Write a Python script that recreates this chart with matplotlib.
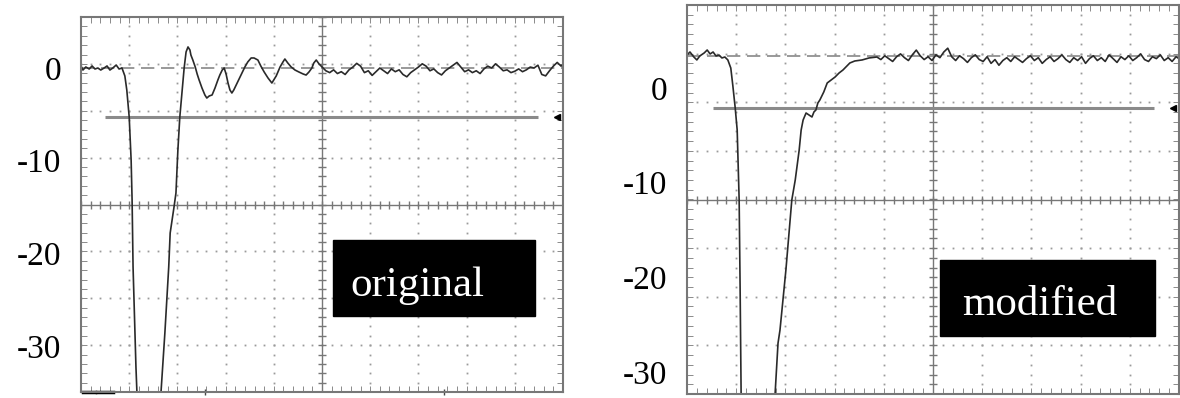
import matplotlib
matplotlib.use("Agg")
import matplotlib.pyplot as plt
from matplotlib.patches import Rectangle
import numpy as np

plt.rcParams['font.family'] = ['Liberation Serif', 'DejaVu Serif']

# labels on the level axis (same on both screens)
y_ticks = [0, -10, -20, -30]
y_labels = ['0', '-10', '-20', '-30']

# original: time (10 per division), level
orig_trace = [
    (0.0, 0.22), (0.4, -0.22), (1.0, 0.11), (1.7, -0.11), (2.3, 0.22), (2.9, -0.11),
    (3.5, 0.0), (4.1, -0.22), (4.8, 0.0), (5.4, 0.22), (6.0, -0.22), (6.6, 0.0),
    (7.3, 0.32), (7.9, -0.11), (8.5, 0.0), (9.1, -0.86), (9.5, -2.37), (10.0, -5.29),
    (10.4, -9.92), (10.6, -14.24), (10.8, -21.47), (11.4, -32.25), (11.6, -34.95),
    (12.2, -37.97), (14.3, -39.05), (16.0, -37.97), (16.6, -34.95), (17.4, -28.59),
    (18.2, -21.47), (18.5, -17.80), (19.3, -14.99), (19.7, -13.48), (20.1, -8.85),
    (20.5, -5.29), (21.0, -2.37), (21.4, 0.0), (21.8, 1.73), (22.2, 2.27), (22.6, 1.94),
    (22.8, 1.40), (23.2, 0.86), (23.7, 0.11), (24.1, -0.65), (24.5, -1.29), (25.1, -2.16),
    (25.7, -2.91), (26.1, -3.24), (26.6, -3.02), (27.2, -2.91), (27.8, -2.16), (28.4, -1.29),
    (28.8, -0.76), (29.3, -0.22), (29.7, 0.0), (30.1, -0.65), (30.5, -1.62), (30.9, -2.37),
    (31.3, -2.70), (31.7, -2.37), (32.4, -1.62), (33.0, -0.97), (33.6, -0.32), (34.0, 0.11),
    (34.6, 0.65), (35.3, 1.08), (35.9, 1.08), (36.7, 0.86), (37.3, 0.22), (38.0, -0.43),
    (38.8, -1.08), (39.6, -1.62), (40.5, -0.86), (41.3, 0.11), (41.9, 0.65), (42.3, 0.97),
    (42.9, 0.54), (43.6, 0.11), (44.4, -0.22), (45.2, -0.43), (46.1, -0.65), (46.7, -0.76),
    (47.3, -0.43), (47.9, 0.0), (48.3, 0.54), (48.8, 0.86), (49.4, 0.43), (50.0, 0.11),
    (50.8, -0.3), (51.6, -0.5), (52.4, -0.2), (53.2, -0.6), (54.0, -0.4), (54.8, -0.7),
    (55.6, -0.2), (56.4, 0.1), (57.2, 0.5), (58.0, 0.2), (58.8, -0.5), (59.6, -0.3),
    (60.4, -0.8), (61.2, -0.4), (62.0, 0.0), (62.8, -0.3), (63.6, -0.6), (64.4, -0.1),
    (65.2, -0.4), (66.0, -0.2), (66.8, -0.7), (67.6, -0.95), (68.4, -0.5), (69.2, -0.2),
    (70.0, 0.1), (70.8, 0.45), (71.6, 0.2), (72.4, -0.3), (73.2, -0.1), (74.0, -0.5),
    (74.8, -0.75), (75.6, -0.3), (76.4, 0.0), (77.2, 0.3), (78.0, 0.6), (78.8, 0.1),
    (79.6, -0.4), (80.4, -0.2), (81.2, -0.5), (82.0, -0.3), (82.8, -0.6), (83.6, -0.1),
    (84.4, 0.2), (85.2, 0.0), (86.0, 0.45), (86.8, 0.1), (87.6, -0.3), (88.4, -0.2),
    (89.2, -0.5), (90.0, -0.35), (90.8, -0.1), (91.6, -0.4), (92.4, -0.2), (93.2, 0.1),
    (94.0, 0.0), (94.8, 0.3), (95.6, -0.7), (96.4, -0.85), (97.2, -0.3), (98.0, 0.2),
    (98.8, 0.6), (99.6, 0.2), (100.0, 0.4),
]

# modified
mod_trace = [
    (0.0, 3.48), (0.6, 3.80), (1.4, 3.27), (2.0, 2.96), (2.6, 3.38), (3.5, 3.70),
    (4.1, 4.01), (4.7, 3.59), (5.3, 3.80), (5.9, 3.38), (6.5, 3.48), (7.1, 3.17),
    (7.7, 3.27), (8.3, 2.96), (8.9, 2.11), (9.3, 0.32), (9.8, -2.11), (10.2, -4.44),
    (10.6, -11.83), (10.8, -21.33), (11.0, -32.31), (11.4, -36.1), (14.8, -37.2),
    (17.5, -36.1), (17.9, -32.31), (18.3, -28.72), (18.5, -26.93), (18.9, -25.55),
    (20.1, -19.22), (21.3, -11.83), (22.0, -9.71), (22.8, -6.55), (23.2, -4.44),
    (23.6, -3.38), (24.2, -2.64), (24.8, -2.85), (25.4, -3.06), (25.8, -2.53),
    (26.2, -2.32), (26.6, -1.58), (27.0, -1.27), (27.8, -0.42), (28.5, 0.53),
    (29.3, 0.84), (30.1, 1.16), (30.9, 1.58), (31.7, 1.90), (32.5, 2.32), (33.1, 2.64),
    (34.1, 2.85), (35.6, 2.96), (37.0, 3.17), (38.6, 3.27),
    (39.4, 3.0), (40.2, 3.4), (41.0, 3.1), (41.8, 2.8), (42.6, 3.3), (43.4, 3.6),
    (44.2, 3.2), (45.0, 2.9), (45.8, 3.5), (46.6, 4.0), (47.4, 3.4), (48.2, 3.0),
    (49.0, 3.3), (49.8, 2.9), (50.6, 3.5), (51.4, 3.2), (52.2, 3.8), (53.0, 4.2),
    (53.8, 3.3), (54.6, 2.9), (55.4, 3.4), (56.2, 3.1), (57.0, 2.7), (57.8, 3.2),
    (58.6, 3.5), (59.4, 3.0), (60.2, 2.8), (61.0, 3.3), (61.8, 2.6), (62.6, 3.0),
    (63.4, 2.4), (64.2, 2.9), (65.0, 3.2), (65.8, 2.8), (66.6, 3.3), (67.4, 3.0),
    (68.2, 2.7), (69.0, 3.1), (69.8, 3.4), (70.6, 2.9), (71.4, 3.2), (72.2, 2.6),
    (73.0, 3.0), (73.8, 3.3), (74.6, 2.8), (75.4, 3.1), (76.2, 3.5), (77.0, 3.0),
    (77.8, 2.7), (78.6, 3.2), (79.4, 2.9), (80.2, 3.3), (81.0, 2.6), (81.8, 3.1),
    (82.6, 3.4), (83.4, 2.9), (84.2, 3.2), (85.0, 2.8), (85.8, 3.5), (86.6, 3.1),
    (87.4, 2.7), (88.2, 3.3), (89.0, 3.0), (89.8, 3.4), (90.6, 2.9), (91.4, 3.2),
    (92.2, 3.6), (93.0, 3.0), (93.8, 2.8), (94.6, 3.3), (95.4, 3.1), (96.2, 3.5),
    (97.0, 2.9), (97.8, 3.2), (98.6, 2.8), (99.4, 3.3), (100.0, 3.1),
]

# screen settings: level range, dashed reference, cursor level and span
orig_ylim = (-34.95, 5.5)
mod_ylim = (-32.3, 8.76)
orig_ref = 0.0
mod_ref = 3.38
orig_cursor = -5.29
mod_cursor = -2.11
orig_cursor_span = (5.0, 94.8)
mod_cursor_span = (5.3, 94.9)

GRID = '#9a9a9a'
FRAME = '#777777'


def draw_screen(ax, trace, ylim, ref, cursor, span, name, box, text_xy):
    t, v = np.array(trace).T
    lo, hi = ylim
    ax.set_xlim(0, 100)
    ax.set_ylim(lo, hi)
    ydiv = (hi - lo) / 8.0
    ysub = np.linspace(lo, hi, 41)
    xsub = np.arange(0, 100.1, 2)

    # dotted grid
    for k in range(1, 10):
        if k == 5:
            continue
        ax.plot([10 * k] * len(ysub), ysub, ls='none', marker='s', ms=1.3,
                color=GRID, mew=0)
    for k in range(1, 8):
        if k == 4:
            continue
        ax.plot(xsub, [lo + k * ydiv] * len(xsub), ls='none', marker='s',
                ms=1.3, color=GRID, mew=0)
    # center cross with sub-division ticks
    yc = lo + 4 * ydiv
    ax.axvline(50, color=FRAME, lw=1.0)
    ax.axhline(yc, color=FRAME, lw=1.0)
    ax.plot(xsub, [yc] * len(xsub), ls='none', marker='|', ms=6, color=FRAME, mew=1.0)
    ax.plot([50] * len(ysub), ysub, ls='none', marker='_', ms=6, color=FRAME, mew=1.0)

    # reference and cursor
    ax.axhline(ref, color='#888888', lw=1.2, dashes=(8, 4))
    ax.plot(span, [cursor, cursor], color='#8a8a8a', lw=2.2, solid_capstyle='butt')
    ax.plot([98.7], [cursor], marker='<', ms=5, color='black')

    ax.plot(t, v, color='#2a2a2a', lw=1.2)

    # frame and ticks
    for s in ax.spines.values():
        s.set_color(FRAME)
        s.set_linewidth(1.5)
    ax.set_xticks([])
    ax.set_xticks(xsub, minor=True)
    ax.set_yticks(y_ticks)
    ax.set_yticklabels(y_labels, fontsize=24)
    ax.set_yticks(ysub, minor=True)
    ax.tick_params(axis='y', which='major', length=0, pad=14)
    ax.tick_params(which='minor', direction='in', length=4, color=FRAME,
                   top=True, bottom=True, left=True, right=True)

    ax.add_patch(Rectangle((box[0], box[1]), box[2], box[3], transform=ax.transAxes,
                           facecolor='black', edgecolor='black', zorder=5))
    ax.text(text_xy[0], text_xy[1], name, transform=ax.transAxes, color='white',
            fontsize=31, va='baseline', ha='left', zorder=6)


fig = plt.figure(figsize=(11.8, 3.98), dpi=100)
ax1 = fig.add_axes([81 / 1180, 6 / 398, 482 / 1180, 375 / 398])
ax2 = fig.add_axes([687 / 1180, 4 / 398, 492 / 1180, 389 / 398])

draw_screen(ax1, orig_trace, orig_ylim, orig_ref, orig_cursor, orig_cursor_span,
            'original', (0.523, 0.203, 0.419, 0.202), (0.558, 0.256))
draw_screen(ax2, mod_trace, mod_ylim, mod_ref, mod_cursor, mod_cursor_span,
            'modified', (0.514, 0.149, 0.437, 0.195), (0.559, 0.203))

# small markers along the bottom of the original screen
ax1.plot([0.5, 2.9], [orig_ylim[0]] * 2, color='black', lw=2.5, clip_on=False)
ax1.plot([3.4, 6.6], [orig_ylim[0]] * 2, color='black', lw=2.5, clip_on=False)
ax1.plot([25.7, 75.3], [orig_ylim[0]] * 2, ls='none', marker='|', ms=5,
         color='#444444', clip_on=False)

fig.savefig('out.png', dpi=100)
